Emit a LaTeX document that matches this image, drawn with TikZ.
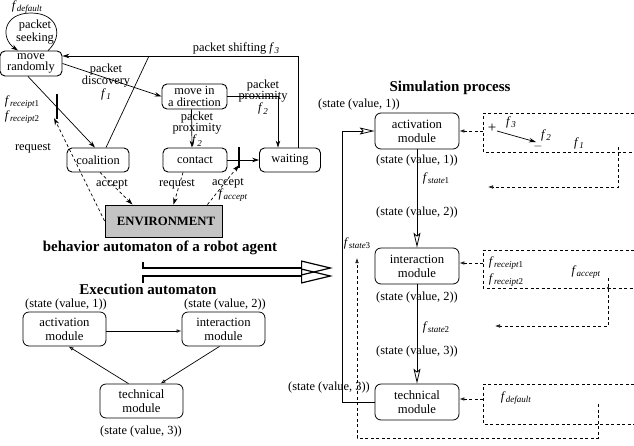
\documentclass[tikz,border=0pt]{standalone}
\usepackage{fontspec}
\setmainfont{Liberation Serif}
\usetikzlibrary{arrows.meta,calc}
\newcommand\fsub[1]{\textit{f}\kern0.2pt\raisebox{-2.6pt}{\fontsize{9}{9}\selectfont\textit{#1}}}
\newcommand\fsubn[2]{\textit{f}\kern0.2pt\raisebox{-2.6pt}{\fontsize{9}{9}\selectfont\textit{#1}\kern-0.3pt#2}}
\definecolor{envgray}{HTML}{C4C4C4}
\tikzset{
  tl/.style={draw, rounded corners=5pt, line width=0.9pt, align=center, inner sep=0pt,
    font=\fontsize{12.4}{11.6}\selectfont},
  mod/.style={draw, rounded corners=6pt, line width=0.8pt, align=center, inner sep=0pt,
    minimum width=84pt, minimum height=36pt, font=\fontsize{12.7}{14}\selectfont},
  lbl/.style={inner sep=0pt, align=center, font=\fontsize{12.4}{11.2}\selectfont},
  ttl/.style={inner sep=0pt, font=\fontsize{15}{15}\selectfont\bfseries},
  arr/.style={-{Stealth[length=7pt,width=4.5pt]}, line width=0.7pt},
  oarr/.style={-{Latex[open,length=5pt,width=3.6pt]}, line width=0.7pt},
  big/.style={-{Stealth[open,length=15pt,width=7pt,inset=3pt]}, line width=0.8pt},
  dsh/.style={dash pattern=on 3pt off 2.5pt, line width=0.7pt},
  dbl/.style={-{Triangle[open,length=32pt,width=15pt]}, line width=1.2pt},
  bar/.style={line width=2.6pt}
}
\begin{document}
\begin{tikzpicture}[x=1pt,y=-1pt]
\useasboundingbox (0,0) rectangle (634,445);

% ---------- behavior automaton ----------
\node[lbl] (fdef) at (27,7) {\fsub{default}};
\node[lbl] (seek) at (35,32) {packet\\seeking};
\node[tl, minimum width=62pt, minimum height=25pt] (mr) at (31,63.5) {move\\randomly};
\node[tl, minimum width=65pt, minimum height=25pt] (mid) at (194.5,96.5) {move in\\a direction};
\node[tl, minimum width=62pt, minimum height=24pt] (coal) at (98,160) {coalition};
\node[tl, minimum width=64pt, minimum height=24pt] (cont) at (195,160) {contact};
\node[tl, minimum width=61pt, minimum height=24pt] (wait) at (290,160) {waiting};
\node[draw, fill=envgray, line width=0.9pt, minimum width=117pt, minimum height=32pt, inner sep=0pt,
  font=\fontsize{12.7}{12}\selectfont\bfseries] (env) at (163.5,221) {\hspace{5pt}ENVIRONMENT};

% self loop
\draw[arr] ($(mr.north)+(17,0)$) .. controls (64,36) and (58,13) .. (31,13)
  .. controls (3,13) and (0,38) .. ($(mr.north)+(-13,0)$);

% packet shifting
\node[lbl] (shift) at (236,48) {packet shifting \fsub{3}};
\coordinate (ps) at (298,56);
\draw[arr] ($(wait.north)+(8,0)$) -- (ps) -- (mr.east |- ps);
\draw[line width=0.7pt] ($(coal.north)+(8,0)$) -- (149,56);

% packet discovery
\draw[arr] (mr.east) -- (mid.west);
\node[lbl] (disc) at (106,82) {packet\\discovery\\\fsub{1}};

% mid -> wait
\coordinate (mw) at (278,96);
\draw[arr] (mid.east |- mw) -- (mw) -- (mw |- wait.north);
\node[lbl] (prox1) at (263,97) {packet\\proximity\\\fsub{2}};

% mid -> contact
\draw[arr] ($(mid.south)+(-3,0)$) -- ($(cont.north)+(-3,0)$);
\node[lbl] (prox2) at (197,129) {packet\\proximity\\\fsub{2}};

% move randomly -> coalition through bar
\draw[arr] ($(mr.south)+(-3,0)$) -- ($(coal.north)+(-3,0)$);
\draw[bar] (57,94) -- (57,119);
\coordinate (bar1) at (54,118);
\node[lbl] (fr1) at (22,102) {\fsubn{receipt}{1}};
\node[lbl] (fr2) at (22,117) {\fsubn{receipt}{2}};
\draw[arr, dsh] (env.west) -- (bar1);
\node[lbl] (req1) at (33,148) {request};

% contact -> waiting through bar
\draw[arr] (cont.east) -- (wait.west);
\draw[bar] (239,147) -- (239,168);
\coordinate (bar2) at (239,165);
\draw[arr, dsh] ($(env.north)+(44,0)$) -- (bar2);
\node[lbl] (acc2) at (228,183) {accept};
\node[lbl] (facc) at (233,195) {\fsub{accept}};

% to environment
\draw[arr, dsh] ($(coal.south)+(2,0)$) -- ($(env.north)+(-31,0)$);
\node[lbl] (acc1) at (112,184) {accept};
\draw[arr, dsh] ($(cont.south)+(-12,0)$) -- ($(env.north)+(10,0)$);
\node[lbl] (req2) at (177,184) {request};

\node[ttl] (t1) at (160,248) {behavior automaton of a robot agent};

% double arrow
\coordinate (da1) at (333,268);
\coordinate (da2) at (333,276);
\draw[dbl] (143,262) -- (143,268) -- (da1);
\draw[dbl] (143,283) -- (143,276) -- (da2);

% ---------- execution automaton ----------
\node[ttl] (t2) at (148,289) {Execution automaton};
\node[lbl] (s1) at (66,305) {(state (value, 1))};
\node[lbl] (s2) at (225,305) {(state (value, 2))};
\node[mod, minimum width=83pt, minimum height=34pt] (ea) at (64.5,329) {activation\\module};
\node[mod, minimum width=83pt, minimum height=34pt] (ei) at (223.5,329) {interaction\\module};
\node[mod, minimum width=83pt, minimum height=34pt] (et) at (141.5,401) {technical\\module};
\node[lbl] (s3) at (141,432) {(state (value, 3))};
\draw[oarr] (ea.east |- 0,331) -- (ei.west |- 0,331);
\draw[oarr] ($(ei.south)+(-4,0)$) -- ($(et.north)+(19,0)$);
\draw[oarr] ($(et.north)+(-13,0)$) -- ($(ea.south)+(4,0)$);

% ---------- simulation process ----------
\node[ttl] (t3) at (450,88) {Simulation process};
\node[mod] (sa) at (417,131) {activation\\module};
\node[mod] (si) at (417,266) {interaction\\module};
\node[mod] (st) at (417,402) {technical\\module};

\node[lbl] (l1) at (359,105) {(state (value, 1))};
\node[lbl] (l2) at (417,161) {(state (value, 1))};
\node[lbl] (l3) at (436,178) {\fsubn{state}{1}};
\node[lbl] (l4) at (417,213) {(state (value, 2))};
\node[lbl] (l5) at (357,243) {\fsubn{state}{3}};
\node[lbl] (l6) at (417,298) {(state (value, 2))};
\node[lbl] (l7) at (436,327) {\fsubn{state}{2}};
\node[lbl] (l8) at (417,352) {(state (value, 3))};
\node[lbl] (l9) at (329,388) {(state (value, 3))};

\draw[big] (sa.south) -- (si.north);
\draw[big] (si.south) -- (st.north);
\draw[big] (st.west) -- (342,402) -- (342,131) -- (sa.west);

% dashed box 1
\draw[dsh] (634,113) -- (483,113) -- (483,152) -- (634,152);
\coordinate (d1) at (483,131);
\draw[oarr, dsh] (d1) -- (sa.east);
\node[lbl, font=\fontsize{15}{15}\selectfont] (plus) at (492,128) {+};
\node[lbl] (f3b) at (511,122) {\fsub{3}};
\node[lbl] (minus) at (538,146) {$-$};
\node[lbl] (f2b) at (546,135) {\fsub{2}};
\node[lbl] (f1b) at (579,143) {\fsub{1}};
\draw[arr] (497,131) -- (536,142);
\coordinate (r1) at (488,187);
\draw[oarr, dsh] (618,147) -- (618,187) -- (r1);

% dashed box 2
\draw[dsh] (634,250) -- (483,250) -- (483,288) -- (634,288);
\coordinate (d2) at (483,263);
\draw[oarr, dsh] (d2) -- (si.east |- d2);
\node[lbl] (rc1) at (506,263) {\fsubn{receipt}{1}};
\node[lbl] (rc2) at (506,280) {\fsubn{receipt}{2}};
\node[lbl] (fac2) at (586,272) {\fsub{accept}};
\fill (608,288) circle (1.2pt);
\coordinate (r2) at (495,326);
\draw[oarr, dsh] (608,278) -- (608,326) -- (r2);

% dashed box 3
\draw[dsh] (634,384) -- (483,384) -- (483,424) -- (634,424);
\coordinate (d3) at (483,399);
\draw[oarr, dsh] (d3) -- (st.east |- d3);
\node[lbl] (fd3) at (516,398) {\fsub{default}};
\coordinate (r3) at (357,258);
\draw[oarr, dsh] (598,404) -- (598,438) -- (357,438) -- (r3);
\end{tikzpicture}
\end{document}
